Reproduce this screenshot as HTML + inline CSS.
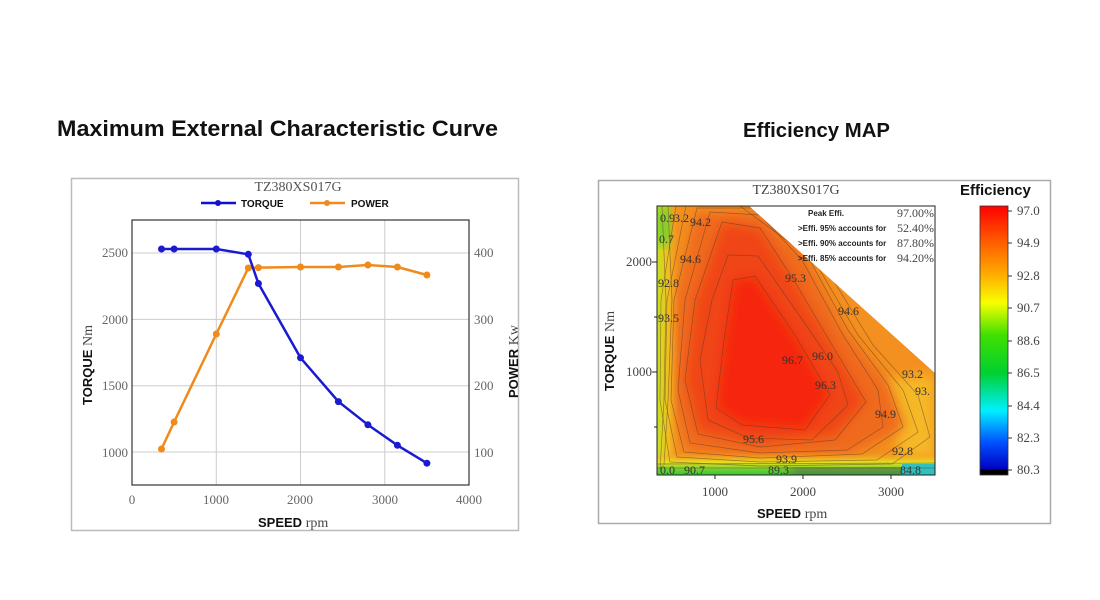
<!DOCTYPE html>
<html><head><meta charset="utf-8"><style>
html,body{margin:0;padding:0;background:#fff;width:1100px;height:600px;overflow:hidden}
svg{display:block}
.s{font-family:"Liberation Serif",serif}
.b{font-family:"Liberation Sans",sans-serif;font-weight:bold}
</style></head><body>
<svg width="1100" height="600" viewBox="0 0 1100 600" xmlns="http://www.w3.org/2000/svg">
<defs>
<filter id="bl" x="-10%" y="-10%" width="120%" height="120%"><feGaussianBlur stdDeviation="6"/></filter>
<clipPath id="pc"><rect x="657" y="206" width="278" height="269"/></clipPath>
<linearGradient id="cb" x1="0" y1="0" x2="0" y2="1">
<stop offset="0" stop-color="#ff0000"/><stop offset="0.13" stop-color="#ff5a00"/>
<stop offset="0.26" stop-color="#ffb000"/><stop offset="0.36" stop-color="#f8ff00"/>
<stop offset="0.48" stop-color="#40e000"/><stop offset="0.62" stop-color="#00d030"/>
<stop offset="0.76" stop-color="#00f0ff"/><stop offset="0.88" stop-color="#0050ff"/>
<stop offset="0.98" stop-color="#0000c0"/><stop offset="0.98" stop-color="#000"/><stop offset="1" stop-color="#000"/>
</linearGradient>
<linearGradient id="lg" x1="0" y1="0" x2="1" y2="0">
<stop offset="0" stop-color="#c8e020"/><stop offset="0.5" stop-color="#f0c020"/><stop offset="1" stop-color="#f3a020" stop-opacity="0"/>
</linearGradient>
<linearGradient id="bg" x1="0" y1="0" x2="0" y2="1">
<stop offset="0" stop-color="#f3a020" stop-opacity="0"/><stop offset="0.45" stop-color="#e8e020"/><stop offset="0.8" stop-color="#60d030"/><stop offset="1" stop-color="#40c040"/>
</linearGradient>
</defs>

<text x="57" y="136" class="b" font-size="22" fill="#111" textLength="441" lengthAdjust="spacingAndGlyphs">Maximum External Characteristic Curve</text>
<text x="743" y="137" class="b" font-size="20" fill="#111" textLength="147" lengthAdjust="spacingAndGlyphs">Efficiency MAP</text>

<rect x="71.5" y="178.5" width="447" height="352" fill="none" stroke="#bbb" stroke-width="1.5"/>
<text x="298" y="191" class="s" font-size="14" fill="#555" text-anchor="middle">TZ380XS017G</text>
<line x1="201" y1="203" x2="236" y2="203" stroke="#1010d0" stroke-width="2.5"/><circle cx="218" cy="203" r="3" fill="#1010d0"/>
<text x="241" y="207" class="b" font-size="10" fill="#111">TORQUE</text>
<line x1="310" y1="203" x2="345" y2="203" stroke="#f08a1a" stroke-width="2.5"/><circle cx="327" cy="203" r="3" fill="#f08a1a"/>
<text x="351" y="207" class="b" font-size="10" fill="#111">POWER</text>
<g stroke="#ccc" stroke-width="1">
<line x1="216.3" y1="220" x2="216.3" y2="485"/><line x1="300.5" y1="220" x2="300.5" y2="485"/><line x1="384.8" y1="220" x2="384.8" y2="485"/>
<line x1="132" y1="253" x2="469" y2="253"/><line x1="132" y1="319.4" x2="469" y2="319.4"/><line x1="132" y1="385.7" x2="469" y2="385.7"/><line x1="132" y1="452" x2="469" y2="452"/>
</g>
<rect x="132" y="220" width="337" height="265" fill="none" stroke="#333" stroke-width="1.2"/>
<g class="s" font-size="13" fill="#666">
<text x="128" y="257" text-anchor="end">2500</text><text x="128" y="324" text-anchor="end">2000</text>
<text x="128" y="390" text-anchor="end">1500</text><text x="128" y="457" text-anchor="end">1000</text>
<text x="474" y="257">400</text><text x="474" y="324">300</text><text x="474" y="390">200</text><text x="474" y="457">100</text>
<text x="132" y="504" text-anchor="middle">0</text><text x="216" y="504" text-anchor="middle">1000</text>
<text x="300" y="504" text-anchor="middle">2000</text><text x="385" y="504" text-anchor="middle">3000</text><text x="469" y="504" text-anchor="middle">4000</text>
</g>
<text x="258" y="527" class="b" font-size="13" fill="#111">SPEED <tspan class="s" font-weight="normal" font-size="14" fill="#444">rpm</tspan></text>
<text transform="translate(92,405) rotate(-90)" class="b" font-size="13" fill="#111">TORQUE <tspan class="s" font-weight="normal" font-size="14" fill="#444">Nm</tspan></text>
<text transform="translate(518,398) rotate(-90)" class="b" font-size="13" fill="#111">POWER <tspan class="s" font-weight="normal" font-size="14" fill="#444">Kw</tspan></text>
<polyline fill="none" stroke="#f08a1a" stroke-width="2.5" points="161.5,449 174.1,422 216.3,334 248.3,268 258.4,267.6 300.5,267 338.4,267 367.9,265 397.4,267 426.9,275"/>
<g fill="#f08a1a"><circle cx="161.5" cy="449" r="3.5"/><circle cx="174.1" cy="422" r="3.5"/><circle cx="216.3" cy="334" r="3.5"/><circle cx="248.3" cy="268" r="3.5"/><circle cx="258.4" cy="267.6" r="3.5"/><circle cx="300.5" cy="267" r="3.5"/><circle cx="338.4" cy="267" r="3.5"/><circle cx="367.9" cy="265" r="3.5"/><circle cx="397.4" cy="267" r="3.5"/><circle cx="426.9" cy="275" r="3.5"/></g>
<polyline fill="none" stroke="#1a1ad0" stroke-width="2.5" points="161.5,249 174.1,249 216.3,249 248.3,254.3 258.4,283.5 300.5,357.8 338.4,401.6 367.9,424.8 397.4,445.3 426.9,463.2"/>
<g fill="#1a1ad0"><circle cx="161.5" cy="249" r="3.5"/><circle cx="174.1" cy="249" r="3.5"/><circle cx="216.3" cy="249" r="3.5"/><circle cx="248.3" cy="254.3" r="3.5"/><circle cx="258.4" cy="283.5" r="3.5"/><circle cx="300.5" cy="357.8" r="3.5"/><circle cx="338.4" cy="401.6" r="3.5"/><circle cx="367.9" cy="424.8" r="3.5"/><circle cx="397.4" cy="445.3" r="3.5"/><circle cx="426.9" cy="463.2" r="3.5"/></g>

<rect x="598.5" y="180.5" width="452" height="343" fill="none" stroke="#aaa" stroke-width="1.5"/>
<text x="796" y="194" class="s" font-size="14" fill="#444" text-anchor="middle">TZ380XS017G</text>
<g clip-path="url(#pc)">
<rect x="657" y="206" width="278" height="269" fill="#f3901f"/>
<polygon points="880,380 935,374 935,460 900,455" fill="#f5b828" filter="url(#bl)"/>
<g filter="url(#bl)">
<polygon points="695,212 760,212 805,255 845,330 890,385 905,428 850,455 760,458 685,450 672,400 675,300" fill="#ef6a1a"/>
<polygon points="722,222 760,228 795,282 835,350 866,402 835,436 760,444 698,432 685,380 695,300" fill="#f04515"/>
<polygon points="733,280 755,276 795,335 830,395 805,430 742,425 716,408 724,340" fill="#f5250c"/>
</g>
<rect x="657" y="206" width="22" height="269" fill="url(#lg)"/>
<rect x="657" y="206" width="14" height="40" fill="#50d030" opacity="0.8" filter="url(#bl)"/>
<rect x="657" y="452" width="278" height="23" fill="url(#bg)"/>
<rect x="790" y="468" width="120" height="7" fill="#505050" filter="url(#bl)"/>
<rect x="902" y="464" width="33" height="11" fill="#30c0c0"/>
<g fill="none" stroke="#5a3a28" stroke-opacity="0.55" stroke-width="0.7">
<polygon points="733,280 755,276 795,335 830,395 805,430 742,425 716,408 724,340"/>
<polygon points="728,255 758,256 797,312 838,372 848,405 812,440 748,438 708,420 700,360 712,300"/>
<polygon points="722,222 760,228 795,282 835,350 866,402 835,440 760,447 698,434 685,380 695,300"/>
<polygon points="710,212 760,215 802,260 843,335 878,390 883,427 847,450 760,453 690,443 678,390 685,300"/>
<polygon points="697,208 760,208 807,255 848,330 888,385 903,427 862,454 760,458 684,452 671,400 674,300"/>
<polygon points="686,206 750,206 814,260 858,335 903,390 918,432 877,460 760,462 677,457 665,400 667,300"/>
<polygon points="676,206 740,206 827,270 873,345 918,395 930,437 892,464 760,466 670,462 660,400 661,300"/>
<polyline points="662,206 666,300 664,400 660,470"/><polyline points="668,206 672,300 668,400 664,465"/>
<line x1="657" y1="468" x2="935" y2="468"/><line x1="657" y1="464" x2="935" y2="463"/>
</g>
<polygon points="748,205 936,205 936,374" fill="#fff"/>
</g>
<rect x="657" y="206" width="278" height="269" fill="none" stroke="#222" stroke-width="1"/>
<g class="b" font-size="8" fill="#222">
<text x="808" y="216">Peak Effi.</text>
<text x="798" y="231">&gt;Effi. 95% accounts for</text>
<text x="798" y="246">&gt;Effi. 90% accounts for</text>
<text x="798" y="261">&gt;Effi. 85% accounts for</text>
</g>
<g class="s" font-size="12" fill="#444" text-anchor="end">
<text x="934" y="217">97.00%</text><text x="934" y="232">52.40%</text><text x="934" y="247">87.80%</text><text x="934" y="262">94.20%</text>
</g>
<g class="s" font-size="12" fill="#333">
<text x="660" y="222">0.9</text><text x="674" y="222">3.2</text><text x="690" y="226">94.2</text><text x="659" y="243">0.7</text>
<text x="680" y="263">94.6</text><text x="658" y="287">92.8</text><text x="658" y="322">93.5</text>
<text x="785" y="282">95.3</text><text x="838" y="315">94.6</text><text x="782" y="364">96.7</text><text x="812" y="360">96.0</text>
<text x="815" y="389">96.3</text><text x="902" y="378">93.2</text><text x="915" y="395">93.</text><text x="875" y="418">94.9</text>
<text x="743" y="443">95.6</text><text x="776" y="463">93.9</text><text x="768" y="474">89.3</text><text x="660" y="474">0.0</text><text x="684" y="474">90.7</text>
<text x="892" y="455">92.8</text><text x="900" y="474">84.8</text>
</g>
<g class="s" font-size="13" fill="#444" text-anchor="end">
<text x="652" y="266">2000</text><text x="652" y="376">1000</text>
</g>
<g stroke="#222"><line x1="652" y1="262" x2="657" y2="262"/><line x1="652" y1="372" x2="657" y2="372"/><line x1="654" y1="317" x2="657" y2="317"/><line x1="654" y1="427" x2="657" y2="427"/>
<line x1="715" y1="475" x2="715" y2="479"/><line x1="803" y1="475" x2="803" y2="479"/><line x1="891" y1="475" x2="891" y2="479"/></g>
<g class="s" font-size="13" fill="#444" text-anchor="middle">
<text x="715" y="496">1000</text><text x="803" y="496">2000</text><text x="891" y="496">3000</text>
</g>
<text x="757" y="518" class="b" font-size="13" fill="#111">SPEED <tspan class="s" font-weight="normal" font-size="14" fill="#444">rpm</tspan></text>
<text transform="translate(614,391) rotate(-90)" class="b" font-size="13" fill="#111">TORQUE <tspan class="s" font-weight="normal" font-size="14" fill="#444">Nm</tspan></text>
<text x="960" y="195" class="b" font-size="15" fill="#111">Efficiency</text>
<rect x="980" y="206" width="28" height="269" fill="url(#cb)" stroke="#333" stroke-width="0.8"/>
<g stroke="#333"><line x1="1008" y1="211" x2="1012" y2="211"/><line x1="1008" y1="243" x2="1012" y2="243"/><line x1="1008" y1="276" x2="1012" y2="276"/><line x1="1008" y1="308" x2="1012" y2="308"/><line x1="1008" y1="341" x2="1012" y2="341"/><line x1="1008" y1="373" x2="1012" y2="373"/><line x1="1008" y1="406" x2="1012" y2="406"/><line x1="1008" y1="438" x2="1012" y2="438"/><line x1="1008" y1="470" x2="1012" y2="470"/></g>
<g class="s" font-size="13" fill="#444">
<text x="1017" y="215">97.0</text><text x="1017" y="247">94.9</text><text x="1017" y="280">92.8</text><text x="1017" y="312">90.7</text><text x="1017" y="345">88.6</text><text x="1017" y="377">86.5</text><text x="1017" y="410">84.4</text><text x="1017" y="442">82.3</text><text x="1017" y="474">80.3</text>
</g>
</svg>
</body></html>
